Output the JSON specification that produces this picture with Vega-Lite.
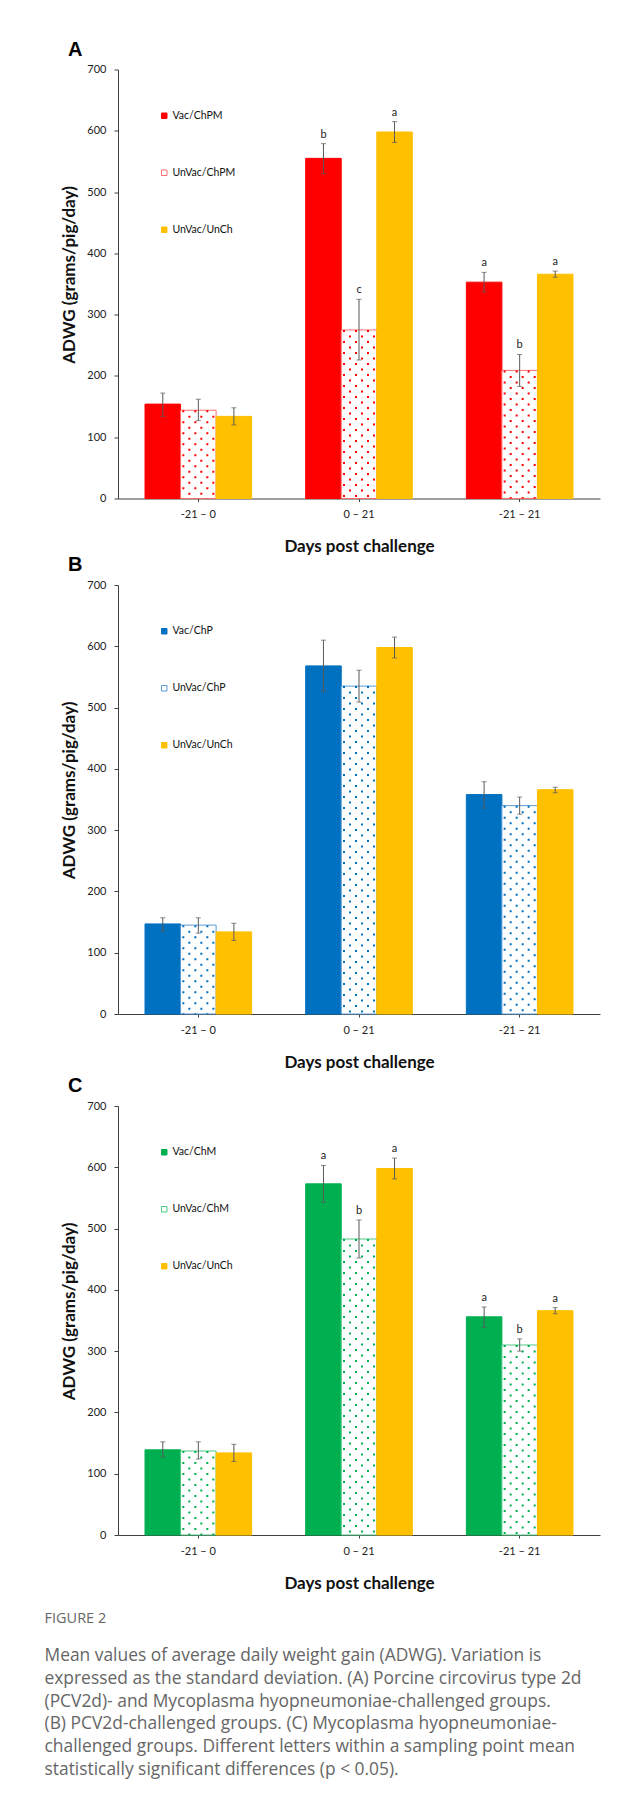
{
  "$schema": "https://vega.github.io/schema/vega-lite/v6.json",
  "padding": {"left": 44, "top": 39.5, "right": 5, "bottom": 5},
  "background": "white",
  "config": {
    "view": {"stroke": null},
    "font": "Lato",
    "axis": {"domainColor": "#404040", "tickColor": "#404040", "labelColor": "#222222", "labelFont": "Lato", "labelFontSize": 11, "titleFont": "Lato", "titleFontSize": 17, "titleFontWeight": "bold", "titleColor": "#111111", "grid": false},
    "axisY": {"tickSize": 4, "labelPadding": 8, "titlePadding": 8, "titleY": 205},
    "axisX": {"tickSize": 3, "labelPadding": 7, "titlePadding": 19, "labelAngle": 0},
    "legend": {"orient": "none", "legendX": 41, "legendY": 41, "direction": "vertical", "symbolType": "square", "symbolSize": 30, "symbolStrokeWidth": 1, "labelFont": "Lato", "labelFontSize": 10.5, "labelColor": "#111111", "rowPadding": 46, "labelOffset": 3, "padding": 0},
    "title": {"anchor": "start", "frame": "group", "dx": -50, "font": "Liberation Sans", "fontSize": 20, "fontWeight": "bold", "color": "#000000", "offset": 4}
  },
  "title": {
    "text": "FIGURE 2",
    "subtitle": [
      "Mean values of average daily weight gain (ADWG). Variation is",
      "expressed as the standard deviation. (A) Porcine circovirus type 2d",
      "(PCV2d)- and Mycoplasma hyopneumoniae-challenged groups.",
      "(B) PCV2d-challenged groups. (C) Mycoplasma hyopneumoniae-",
      "challenged groups. Different letters within a sampling point mean",
      "statistically significant differences (p < 0.05)."
    ],
    "orient": "bottom",
    "anchor": "start",
    "frame": "group",
    "dx": -73.5,
    "offset": 20.5,
    "font": "Open Sans",
    "fontSize": 14.5,
    "fontWeight": "normal",
    "color": "#666666",
    "subtitleFont": "Open Sans",
    "subtitleFontSize": 17.4,
    "subtitleColor": "#666666",
    "subtitleLineHeight": 22.8,
    "subtitlePadding": 21
  },
  "resolve": {"scale": {"fill": "independent", "stroke": "independent", "xOffset": "independent"}},
  "spacing": 0.5,
  "vconcat": [
    {
      "title": {"text": "A"},
      "width": 482,
      "height": 429,
      "data": {"values": [
        {"period": "-21 – 0", "group": "Vac/ChPM", "mean": 154, "lo": 134, "hi": 172, "sig": ""},
        {"period": "-21 – 0", "group": "UnVac/ChPM", "mean": 144, "lo": 127, "hi": 162, "sig": ""},
        {"period": "-21 – 0", "group": "UnVac/UnCh", "mean": 134, "lo": 120, "hi": 148, "sig": ""},
        {"period": "0 – 21", "group": "Vac/ChPM", "mean": 555, "lo": 530, "hi": 579, "sig": "b"},
        {"period": "0 – 21", "group": "UnVac/ChPM", "mean": 275, "lo": 226, "hi": 325, "sig": "c"},
        {"period": "0 – 21", "group": "UnVac/UnCh", "mean": 598, "lo": 581, "hi": 615, "sig": "a"},
        {"period": "-21 – 21", "group": "Vac/ChPM", "mean": 353, "lo": 337, "hi": 369, "sig": "a"},
        {"period": "-21 – 21", "group": "UnVac/ChPM", "mean": 209, "lo": 183, "hi": 235, "sig": "b"},
        {"period": "-21 – 21", "group": "UnVac/UnCh", "mean": 366, "lo": 361, "hi": 371, "sig": "a"}
      ]},
      "encoding": {
        "x": {"field": "period", "type": "nominal", "sort": ["-21 – 0", "0 – 21", "-21 – 21"], "scale": {"paddingInner": 0, "paddingOuter": 0}, "title": "Days post challenge"}
      },
      "layer": [
        {"mark": {"type": "bar", "strokeWidth": 1},
         "encoding": {
           "xOffset": {"field": "group", "type": "nominal", "sort": ["Vac/ChPM", "UnVac/ChPM", "UnVac/UnCh"], "scale": {"paddingInner": 0, "paddingOuter": 0.76}},
           "y": {"field": "mean", "type": "quantitative", "scale": {"domain": [0, 700]}, "axis": {"values": [0, 100, 200, 300, 400, 500, 600, 700]}, "title": "ADWG (grams/pig/day)"},
           "fill": {"field": "group", "type": "nominal", "scale": {"domain": ["Vac/ChPM", "UnVac/ChPM", "UnVac/UnCh"], "range": ["#FF0000", "#FFFFFF", "#FFC000"]}, "title": null},
           "stroke": {"field": "group", "type": "nominal", "scale": {"domain": ["Vac/ChPM", "UnVac/ChPM", "UnVac/UnCh"], "range": ["#FF0000", "#FF6F6F", "#FFC000"]}, "title": null}
         }},
        {"transform": [{"filter": "datum.group === 'UnVac/ChPM'"}], "mark": {"type": "rule", "color": "#FF0000", "strokeWidth": 2, "strokeDash": [2, 9], "strokeDashOffset": 0, "xOffset": -15}, "encoding": {"y": {"field": "mean", "type": "quantitative", "title": "ADWG (grams/pig/day)"}, "y2": {"datum": 0}}},
        {"transform": [{"filter": "datum.group === 'UnVac/ChPM'"}], "mark": {"type": "rule", "color": "#FF0000", "strokeWidth": 2, "strokeDash": [2, 9], "strokeDashOffset": 5.5, "xOffset": -9}, "encoding": {"y": {"field": "mean", "type": "quantitative", "title": "ADWG (grams/pig/day)"}, "y2": {"datum": 0}}},
        {"transform": [{"filter": "datum.group === 'UnVac/ChPM'"}], "mark": {"type": "rule", "color": "#FF0000", "strokeWidth": 2, "strokeDash": [2, 9], "strokeDashOffset": 0, "xOffset": -3}, "encoding": {"y": {"field": "mean", "type": "quantitative", "title": "ADWG (grams/pig/day)"}, "y2": {"datum": 0}}},
        {"transform": [{"filter": "datum.group === 'UnVac/ChPM'"}], "mark": {"type": "rule", "color": "#FF0000", "strokeWidth": 2, "strokeDash": [2, 9], "strokeDashOffset": 5.5, "xOffset": 3}, "encoding": {"y": {"field": "mean", "type": "quantitative", "title": "ADWG (grams/pig/day)"}, "y2": {"datum": 0}}},
        {"transform": [{"filter": "datum.group === 'UnVac/ChPM'"}], "mark": {"type": "rule", "color": "#FF0000", "strokeWidth": 2, "strokeDash": [2, 9], "strokeDashOffset": 0, "xOffset": 9}, "encoding": {"y": {"field": "mean", "type": "quantitative", "title": "ADWG (grams/pig/day)"}, "y2": {"datum": 0}}},
        {"transform": [{"filter": "datum.group === 'UnVac/ChPM'"}], "mark": {"type": "rule", "color": "#FF0000", "strokeWidth": 2, "strokeDash": [2, 9], "strokeDashOffset": 5.5, "xOffset": 15}, "encoding": {"y": {"field": "mean", "type": "quantitative", "title": "ADWG (grams/pig/day)"}, "y2": {"datum": 0}}},
        {"mark": {"type": "errorbar", "ticks": {"size": 5, "color": "#595959", "thickness": 1}, "rule": {"color": "#595959", "strokeWidth": 1}},
         "encoding": {
           "xOffset": {"field": "group", "type": "nominal", "sort": ["Vac/ChPM", "UnVac/ChPM", "UnVac/UnCh"], "scale": {"paddingInner": 0, "paddingOuter": 0.76}},
           "y": {"field": "lo", "type": "quantitative", "title": "ADWG (grams/pig/day)"},
           "y2": {"field": "hi"}
         }},
        {"transform": [{"filter": "datum.sig !== ''"}], "mark": {"type": "text", "baseline": "alphabetic", "dy": -6, "fontSize": 11, "font": "Lato", "color": "#222222"},
         "encoding": {
           "xOffset": {"field": "group", "type": "nominal", "sort": ["Vac/ChPM", "UnVac/ChPM", "UnVac/UnCh"], "scale": {"paddingInner": 0, "paddingOuter": 0.76}},
           "y": {"field": "hi", "type": "quantitative", "title": "ADWG (grams/pig/day)"},
           "text": {"field": "sig"}
         }}
      ]
    },
    {
      "resolve": {"scale": {"fill": "independent", "stroke": "independent", "xOffset": "independent"}},
      "spacing": 6,
      "vconcat": [
        {
          "title": {"text": "B"},
          "width": 482,
          "height": 429,
          "data": {"values": [
            {"period": "-21 – 0", "group": "Vac/ChP", "mean": 147, "lo": 135, "hi": 157},
            {"period": "-21 – 0", "group": "UnVac/ChP", "mean": 145, "lo": 132, "hi": 157},
            {"period": "-21 – 0", "group": "UnVac/UnCh", "mean": 134, "lo": 120, "hi": 148},
            {"period": "0 – 21", "group": "Vac/ChP", "mean": 568, "lo": 526, "hi": 610},
            {"period": "0 – 21", "group": "UnVac/ChP", "mean": 535, "lo": 509, "hi": 561},
            {"period": "0 – 21", "group": "UnVac/UnCh", "mean": 598, "lo": 581, "hi": 615},
            {"period": "-21 – 21", "group": "Vac/ChP", "mean": 358, "lo": 336, "hi": 379},
            {"period": "-21 – 21", "group": "UnVac/ChP", "mean": 340, "lo": 326, "hi": 354},
            {"period": "-21 – 21", "group": "UnVac/UnCh", "mean": 366, "lo": 361, "hi": 370}
          ]},
          "encoding": {
            "x": {"field": "period", "type": "nominal", "sort": ["-21 – 0", "0 – 21", "-21 – 21"], "scale": {"paddingInner": 0, "paddingOuter": 0}, "title": "Days post challenge"}
          },
          "layer": [
            {"mark": {"type": "bar", "strokeWidth": 1},
             "encoding": {
               "xOffset": {"field": "group", "type": "nominal", "sort": ["Vac/ChP", "UnVac/ChP", "UnVac/UnCh"], "scale": {"paddingInner": 0, "paddingOuter": 0.76}},
               "y": {"field": "mean", "type": "quantitative", "scale": {"domain": [0, 700]}, "axis": {"values": [0, 100, 200, 300, 400, 500, 600, 700]}, "title": "ADWG (grams/pig/day)"},
               "fill": {"field": "group", "type": "nominal", "scale": {"domain": ["Vac/ChP", "UnVac/ChP", "UnVac/UnCh"], "range": ["#0070C0", "#FFFFFF", "#FFC000"]}, "title": null},
               "stroke": {"field": "group", "type": "nominal", "scale": {"domain": ["Vac/ChP", "UnVac/ChP", "UnVac/UnCh"], "range": ["#0070C0", "#5B9BD5", "#FFC000"]}, "title": null}
             }},
            {"transform": [{"filter": "datum.group === 'UnVac/ChP'"}], "mark": {"type": "rule", "color": "#0070C0", "strokeWidth": 2, "strokeDash": [2, 9], "strokeDashOffset": 0, "xOffset": -15}, "encoding": {"y": {"field": "mean", "type": "quantitative", "title": "ADWG (grams/pig/day)"}, "y2": {"datum": 0}}},
            {"transform": [{"filter": "datum.group === 'UnVac/ChP'"}], "mark": {"type": "rule", "color": "#0070C0", "strokeWidth": 2, "strokeDash": [2, 9], "strokeDashOffset": 5.5, "xOffset": -9}, "encoding": {"y": {"field": "mean", "type": "quantitative", "title": "ADWG (grams/pig/day)"}, "y2": {"datum": 0}}},
            {"transform": [{"filter": "datum.group === 'UnVac/ChP'"}], "mark": {"type": "rule", "color": "#0070C0", "strokeWidth": 2, "strokeDash": [2, 9], "strokeDashOffset": 0, "xOffset": -3}, "encoding": {"y": {"field": "mean", "type": "quantitative", "title": "ADWG (grams/pig/day)"}, "y2": {"datum": 0}}},
            {"transform": [{"filter": "datum.group === 'UnVac/ChP'"}], "mark": {"type": "rule", "color": "#0070C0", "strokeWidth": 2, "strokeDash": [2, 9], "strokeDashOffset": 5.5, "xOffset": 3}, "encoding": {"y": {"field": "mean", "type": "quantitative", "title": "ADWG (grams/pig/day)"}, "y2": {"datum": 0}}},
            {"transform": [{"filter": "datum.group === 'UnVac/ChP'"}], "mark": {"type": "rule", "color": "#0070C0", "strokeWidth": 2, "strokeDash": [2, 9], "strokeDashOffset": 0, "xOffset": 9}, "encoding": {"y": {"field": "mean", "type": "quantitative", "title": "ADWG (grams/pig/day)"}, "y2": {"datum": 0}}},
            {"transform": [{"filter": "datum.group === 'UnVac/ChP'"}], "mark": {"type": "rule", "color": "#0070C0", "strokeWidth": 2, "strokeDash": [2, 9], "strokeDashOffset": 5.5, "xOffset": 15}, "encoding": {"y": {"field": "mean", "type": "quantitative", "title": "ADWG (grams/pig/day)"}, "y2": {"datum": 0}}},
            {"mark": {"type": "errorbar", "ticks": {"size": 5, "color": "#595959", "thickness": 1}, "rule": {"color": "#595959", "strokeWidth": 1}},
             "encoding": {
               "xOffset": {"field": "group", "type": "nominal", "sort": ["Vac/ChP", "UnVac/ChP", "UnVac/UnCh"], "scale": {"paddingInner": 0, "paddingOuter": 0.76}},
               "y": {"field": "lo", "type": "quantitative", "title": "ADWG (grams/pig/day)"},
               "y2": {"field": "hi"}
             }}
          ]
        },
        {
          "title": {"text": "C"},
          "width": 482,
          "height": 429,
          "data": {"values": [
            {"period": "-21 – 0", "group": "Vac/ChM", "mean": 139, "lo": 127, "hi": 152, "sig": ""},
            {"period": "-21 – 0", "group": "UnVac/ChM", "mean": 137, "lo": 124, "hi": 152, "sig": ""},
            {"period": "-21 – 0", "group": "UnVac/UnCh", "mean": 134, "lo": 120, "hi": 148, "sig": ""},
            {"period": "0 – 21", "group": "Vac/ChM", "mean": 573, "lo": 543, "hi": 603, "sig": "a"},
            {"period": "0 – 21", "group": "UnVac/ChM", "mean": 483, "lo": 452, "hi": 514, "sig": "b"},
            {"period": "0 – 21", "group": "UnVac/UnCh", "mean": 598, "lo": 581, "hi": 615, "sig": "a"},
            {"period": "-21 – 21", "group": "Vac/ChM", "mean": 356, "lo": 339, "hi": 372, "sig": "a"},
            {"period": "-21 – 21", "group": "UnVac/ChM", "mean": 310, "lo": 300, "hi": 320, "sig": "b"},
            {"period": "-21 – 21", "group": "UnVac/UnCh", "mean": 366, "lo": 361, "hi": 371, "sig": "a"}
          ]},
          "encoding": {
            "x": {"field": "period", "type": "nominal", "sort": ["-21 – 0", "0 – 21", "-21 – 21"], "scale": {"paddingInner": 0, "paddingOuter": 0}, "title": "Days post challenge"}
          },
          "layer": [
            {"mark": {"type": "bar", "strokeWidth": 1},
             "encoding": {
               "xOffset": {"field": "group", "type": "nominal", "sort": ["Vac/ChM", "UnVac/ChM", "UnVac/UnCh"], "scale": {"paddingInner": 0, "paddingOuter": 0.76}},
               "y": {"field": "mean", "type": "quantitative", "scale": {"domain": [0, 700]}, "axis": {"values": [0, 100, 200, 300, 400, 500, 600, 700]}, "title": "ADWG (grams/pig/day)"},
               "fill": {"field": "group", "type": "nominal", "scale": {"domain": ["Vac/ChM", "UnVac/ChM", "UnVac/UnCh"], "range": ["#00B050", "#FFFFFF", "#FFC000"]}, "title": null},
               "stroke": {"field": "group", "type": "nominal", "scale": {"domain": ["Vac/ChM", "UnVac/ChM", "UnVac/UnCh"], "range": ["#00B050", "#4CC884", "#FFC000"]}, "title": null}
             }},
            {"transform": [{"filter": "datum.group === 'UnVac/ChM'"}], "mark": {"type": "rule", "color": "#00B050", "strokeWidth": 2, "strokeDash": [2, 9], "strokeDashOffset": 0, "xOffset": -15}, "encoding": {"y": {"field": "mean", "type": "quantitative", "title": "ADWG (grams/pig/day)"}, "y2": {"datum": 0}}},
            {"transform": [{"filter": "datum.group === 'UnVac/ChM'"}], "mark": {"type": "rule", "color": "#00B050", "strokeWidth": 2, "strokeDash": [2, 9], "strokeDashOffset": 5.5, "xOffset": -9}, "encoding": {"y": {"field": "mean", "type": "quantitative", "title": "ADWG (grams/pig/day)"}, "y2": {"datum": 0}}},
            {"transform": [{"filter": "datum.group === 'UnVac/ChM'"}], "mark": {"type": "rule", "color": "#00B050", "strokeWidth": 2, "strokeDash": [2, 9], "strokeDashOffset": 0, "xOffset": -3}, "encoding": {"y": {"field": "mean", "type": "quantitative", "title": "ADWG (grams/pig/day)"}, "y2": {"datum": 0}}},
            {"transform": [{"filter": "datum.group === 'UnVac/ChM'"}], "mark": {"type": "rule", "color": "#00B050", "strokeWidth": 2, "strokeDash": [2, 9], "strokeDashOffset": 5.5, "xOffset": 3}, "encoding": {"y": {"field": "mean", "type": "quantitative", "title": "ADWG (grams/pig/day)"}, "y2": {"datum": 0}}},
            {"transform": [{"filter": "datum.group === 'UnVac/ChM'"}], "mark": {"type": "rule", "color": "#00B050", "strokeWidth": 2, "strokeDash": [2, 9], "strokeDashOffset": 0, "xOffset": 9}, "encoding": {"y": {"field": "mean", "type": "quantitative", "title": "ADWG (grams/pig/day)"}, "y2": {"datum": 0}}},
            {"transform": [{"filter": "datum.group === 'UnVac/ChM'"}], "mark": {"type": "rule", "color": "#00B050", "strokeWidth": 2, "strokeDash": [2, 9], "strokeDashOffset": 5.5, "xOffset": 15}, "encoding": {"y": {"field": "mean", "type": "quantitative", "title": "ADWG (grams/pig/day)"}, "y2": {"datum": 0}}},
            {"mark": {"type": "errorbar", "ticks": {"size": 5, "color": "#595959", "thickness": 1}, "rule": {"color": "#595959", "strokeWidth": 1}},
             "encoding": {
               "xOffset": {"field": "group", "type": "nominal", "sort": ["Vac/ChM", "UnVac/ChM", "UnVac/UnCh"], "scale": {"paddingInner": 0, "paddingOuter": 0.76}},
               "y": {"field": "lo", "type": "quantitative", "title": "ADWG (grams/pig/day)"},
               "y2": {"field": "hi"}
             }},
            {"transform": [{"filter": "datum.sig !== ''"}], "mark": {"type": "text", "baseline": "alphabetic", "dy": -6, "fontSize": 11, "font": "Lato", "color": "#222222"},
             "encoding": {
               "xOffset": {"field": "group", "type": "nominal", "sort": ["Vac/ChM", "UnVac/ChM", "UnVac/UnCh"], "scale": {"paddingInner": 0, "paddingOuter": 0.76}},
               "y": {"field": "hi", "type": "quantitative", "title": "ADWG (grams/pig/day)"},
               "text": {"field": "sig"}
             }}
          ]
        }
      ]
    }
  ]
}
